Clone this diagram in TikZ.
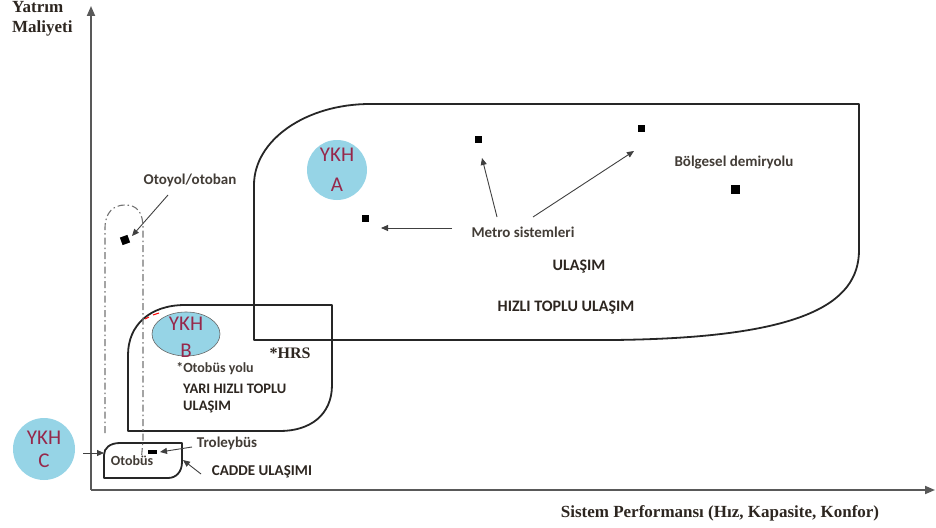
\documentclass[tikz,border=0pt]{standalone}
\usepackage{fontspec}
\setmainfont{Liberation Serif}
\newfontfamily\calfont{Carlito}
\usetikzlibrary{arrows.meta,shapes.geometric}
\definecolor{ykhblue}{RGB}{150,212,230}
\definecolor{ykhred}{RGB}{150,40,75}
\definecolor{txt}{RGB}{45,38,32}
\begin{document}
\begin{tikzpicture}[x=1pt,y=-1pt,
  region/.style={draw=black!85, line width=1.8pt, line join=round},
  axisline/.style={draw=black!65, line width=1.8pt, -{Triangle[length=10pt,width=8pt]}},
  arr/.style={draw=black!75, line width=0.9pt, -{Triangle[length=7pt,width=6pt]}},
  lbl/.style={font=\calfont\bfseries\fontsize{14}{16}\selectfont, text=txt!90, inner sep=0pt},
  blbl/.style={font=\calfont\bfseries\fontsize{16}{17}\selectfont, text=txt, inner sep=0pt},
  axlbl/.style={font=\bfseries\fontsize{17}{20}\selectfont, text=txt, inner sep=0pt},
  sqmark/.style={fill=black, minimum size=7pt, inner sep=0pt},
  ykh/.style={fill=ykhblue, text=ykhred, align=center, inner sep=0pt},
  ddline/.style={draw=black!55, line width=1.1pt, dash pattern=on 7pt off 3pt on 1.5pt off 3pt},
]
\useasboundingbox (0,0) rectangle (936,527);

% axes
\coordinate (O) at (91,490);
\coordinate (Ytop) at (91,6);
\coordinate (Xend) at (935,490);
\draw[axisline] (O) -- (Ytop);
\draw[axisline] (O) -- (Xend);
\node[axlbl, anchor=north west, align=left] (ylab) at (12,1) {Yatrım\\Maliyeti};
\node[axlbl] (xlab) at (720,513) {Sistem Performansı (Hız, Kapasite, Konfor)};

% regions
\draw[region] (254,340) -- (254,185) .. controls (254,140) and (306,104) .. (370,104)
  -- (859,104) -- (859,250) .. controls (859,305) and (800,338) .. (613,340) -- cycle;
\draw[region] (128,431) -- (128,355) .. controls (128,325) and (150,305) .. (185,305)
  -- (332,305) -- (332,385) .. controls (332,415) and (310,431) .. (280,431) -- cycle;
\draw[region] (104,478) -- (104,455) .. controls (104,448) and (110,443) .. (120,443)
  -- (182,443) -- (182,462) .. controls (182,472) and (176,478) .. (168,478) -- cycle;

% dash-dot highway loop
\draw[ddline] (105,433) -- (105,228) .. controls (105,212) and (114,205) .. (125,205)
  .. controls (137,205) and (143,212) .. (143,228) -- (143,440) -- (141,463);
\draw[red, line width=1pt] (145,319) -- (149,317) (153,315) -- (159,313);

% YKH markers
\node[ykh, circle, minimum size=60pt, font=\calfont\fontsize{21}{30}\selectfont] (ykhA) at (337,170) {YKH\\A};
\node[ellipse, fill=ykhblue, draw=black!60, line width=0.6pt, minimum width=68pt, minimum height=44pt] (ykhB) at (186,334) {};
\node[text=ykhred, align=center, inner sep=0pt, font=\calfont\fontsize{21}{27}\selectfont] (ykhBt) at (186,337) {YKH\\B};
\node[ykh, circle, minimum size=62pt, font=\calfont\fontsize{21}{23}\selectfont] (ykhC) at (44,449) {YKH\\C};

% squares
\node[sqmark] (m1) at (365,218) {};
\node[sqmark] (m2) at (478,139) {};
\node[sqmark] (m3) at (641,128) {};
\node[sqmark, minimum size=9pt] (brail) at (735,189) {};
\node[sqmark, minimum size=8pt, rotate=20] (oto) at (125,240) {};
\node[fill=black, minimum width=9pt, minimum height=4pt, inner sep=0pt] (trm) at (152,452) {};

% labels
\node[lbl, font=\calfont\bfseries\fontsize{15}{16}\selectfont] (metro) at (523,232) {Metro sistemleri};
\node[lbl, font=\calfont\bfseries\fontsize{15}{16}\selectfont] (bd) at (734,163) {Bölgesel demiryolu};
\node[blbl] (ulasim) at (579,267) {ULAŞIM};
\node[blbl] (hizli) at (566,308) {HIZLI TOPLU ULAŞIM};
\node[lbl, font=\calfont\bfseries\fontsize{15}{16}\selectfont] (otoyol) at (190,180) {Otoyol/otoban};
\node[font=\bfseries\fontsize{16}{17}\selectfont, text=txt, inner sep=0pt] (hrs) at (290,353) {*HRS};
\node[lbl] (otoyolu) at (215,369) {*Otobüs yolu};
\node[blbl, anchor=west, align=left, font=\calfont\bfseries\fontsize{14.5}{17}\selectfont] (yari) at (183,398) {YARI HIZLI TOPLU\\ULAŞIM};
\node[lbl, font=\calfont\bfseries\fontsize{15}{16}\selectfont] (trol) at (227,443) {Troleybüs};
\node[lbl, font=\calfont\bfseries\fontsize{14}{15}\selectfont] (otobus) at (132,461) {Otobüs};
\node[blbl, font=\calfont\bfseries\fontsize{15}{15}\selectfont] (cadde) at (262,472) {CADDE ULAŞIMI};

% arrow coordinates
\coordinate (a1s) at (452,228); \coordinate (a1e) at (381,228);
\coordinate (a2s) at (497,217); \coordinate (a2e) at (482,158);
\coordinate (a3s) at (533,217); \coordinate (a3e) at (634,151);
\coordinate (a4s) at (168,195); \coordinate (a4e) at (132,236);
\coordinate (a5s) at (192,447); \coordinate (a5e) at (160,452);
\coordinate (a6s) at (201,474); \coordinate (a6e) at (183,460);
\coordinate (a7s) at (83,453);  \coordinate (a7e) at (104,453);

\draw[arr] (a1s) -- (a1e);
\draw[arr] (a2s) -- (a2e);
\draw[arr] (a3s) -- (a3e);
\draw[arr] (a4s) -- (a4e);
\draw[arr] (a5s) -- (a5e);
\draw[arr] (a6s) -- (a6e);
\draw[arr] (a7s) -- (a7e);
\end{tikzpicture}
\end{document}
